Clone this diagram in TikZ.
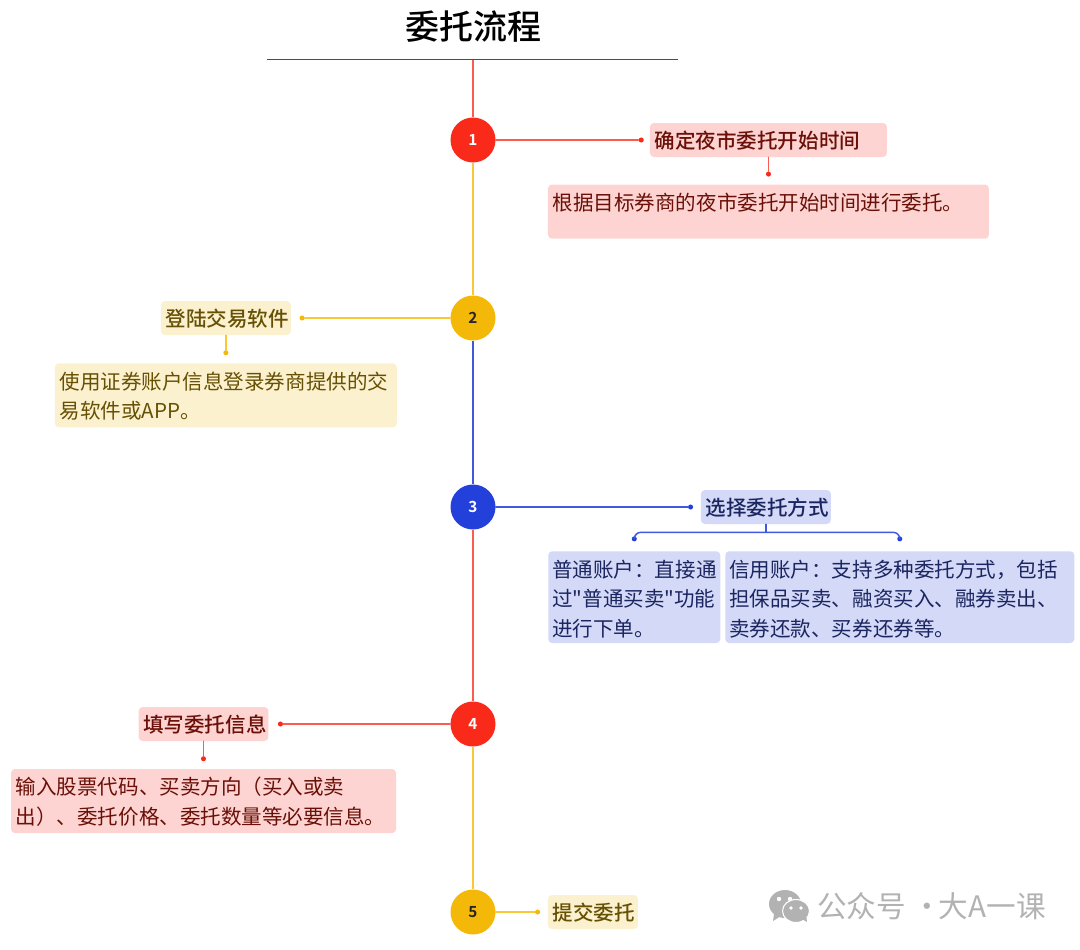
\documentclass[tikz,border=0pt]{standalone}
\usepackage{fontspec}
\setmainfont[BoldFont={Noto Sans CJK SC Medium}]{Noto Sans CJK SC}
\newfontfamily\heavyfont{Noto Sans CJK SC Bold}
\newfontfamily\plainq{Noto Sans CJK SC}
\usepackage{xcolor}
\usetikzlibrary{positioning}
\definecolor{stepred}{HTML}{F92A1A}
\definecolor{stepyellow}{HTML}{F4B809}
\definecolor{stepblue}{HTML}{2440DA}
\definecolor{linered}{HTML}{FB5C50}
\definecolor{lineyellow}{HTML}{F9C935}
\definecolor{lineblue}{HTML}{3F58E0}
\definecolor{lightr}{HTML}{FDD4D1}
\definecolor{lighty}{HTML}{FCF1CE}
\definecolor{lightb}{HTML}{D3D9F7}
\definecolor{darkr}{HTML}{6A1008}
\definecolor{darky}{HTML}{665003}
\definecolor{darkb}{HTML}{1B2560}
\tikzset{
  stepnode/.style={circle, fill=#1, minimum size=33.75pt, inner sep=0pt, font=\fontsize{11.5}{14}\heavyfont\selectfont},
  txtbox/.style={rounded corners=3pt, align=left, inner xsep=3.6pt, inner ysep=4pt, text height=15.35pt, text depth=2.15pt, font=\fontsize{15.4}{22.3}\selectfont},
  head/.style={txtbox, font=\fontsize{15.4}{22.3}\bfseries\selectfont},
  redbox/.style={fill=lightr, text=darkr},
  yellowbox/.style={fill=lighty, text=darky},
  bluebox/.style={fill=lightb, text=darkb},
  dotm/.style={circle, fill=#1, minimum size=3.8pt, inner sep=0pt},
  spine/.style={line width=1.5pt, draw=#1},
  twig/.style={line width=1.1pt, draw=#1, line cap=round},
}
\begin{document}
\begin{tikzpicture}[x=0.75pt, y=-0.75pt]
  \useasboundingbox (0,0) rectangle (1080,949);
  \node[font=\fontsize{25.5}{30}\bfseries\selectfont, inner sep=0pt] (title) at (473,27) {委托流程};
  \coordinate (ruleL) at (267,60);
  \coordinate (ruleR) at (678,60);
  \coordinate (top) at (473,60);
  \draw[line width=0.75pt, draw=black!70] (ruleL) -- (ruleR);
  \node[stepnode=stepred, text=white] (s1) at (473,140) {1};
  \node[stepnode=stepyellow, text=black!85] (s2) at (473,318) {2};
  \node[stepnode=stepblue, text=white] (s3) at (473,507) {3};
  \node[stepnode=stepred, text=white] (s4) at (473,724) {4};
  \node[stepnode=stepyellow, text=black!85] (s5) at (473,912) {5};
  \draw[spine=linered] (top) -- (s1);
  \draw[spine=lineyellow] (s1) -- (s2);
  \draw[spine=lineblue] (s2) -- (s3);
  \draw[spine=linered] (s3) -- (s4);
  \draw[spine=lineyellow] (s4) -- (s5);

  \node[dotm=stepred, right=107pt of s1] (d1) {};
  \node[head, redbox, right=4.25pt of d1, text width=170.55pt] (h1) {确定夜市委托开始时间};
  \node[dotm=stepred, below=10.5pt of h1] (d1b) {};
  \node[txtbox, redbox, below=5.6pt of d1b, text width=323.55pt, text depth=17.2pt] (t1) {根据目标券商的夜市委托开始时间进行委托。};
  \draw[twig=linered] (s1) -- (d1);
  \draw[twig=linered] (h1) -- (d1b);

  \node[dotm=stepyellow, left=109pt of s2] (d2) {};
  \node[head, yellowbox, left=6.2pt of d2, text width=90.2pt] (h2) {登陆交易软件};
  \node[dotm=stepyellow, below=11pt of h2] (d2b) {};
  \node[txtbox, yellowbox, below=5.6pt of d2b, text width=249.3pt, text depth=24.7pt] (t2) {使用证券账户信息登录券商提供的交\\易软件或APP。};
  \draw[twig=lineyellow] (s2) -- (d2);
  \draw[twig=lineyellow] (h2) -- (d2b);

  \node[dotm=stepblue, right=144pt of s3] (d3) {};
  \node[head, bluebox, right=5.5pt of d3, text width=90.2pt] (h3) {选择委托方式};
  \node[txtbox, bluebox, anchor=north west, inner xsep=3pt, text width=123pt, text depth=45.5pt] (t3a) at (548,551) {普通账户：直接通\\过{\plainq"}普通买卖{\plainq"}功能\\进行下单。};
  \node[txtbox, bluebox, anchor=north west, inner xsep=3pt, text width=255.75pt, text depth=45.5pt] (t3b) at (725,551) {信用账户：支持多种委托方式，包括\\担保品买卖、融资买入、融券卖出、\\卖券还款、买券还券等。};
  \node[dotm=stepblue, above=7pt of t3a] (d3a) {};
  \node[dotm=stepblue, above=7pt of t3b] (d3b) {};
  \coordinate[below=6pt of h3] (fork);
  \draw[twig=lineblue] (s3) -- (d3);
  \draw[twig=lineblue] (h3) -- (fork);
  \draw[twig=lineblue, rounded corners=5pt] (d3a.center) |- (fork);
  \draw[twig=lineblue, rounded corners=5pt] (d3b.center) |- (fork);

  \node[dotm=stepred, left=125.25pt of s4] (d4) {};
  \node[head, redbox, left=6.7pt of d4, text width=90.2pt] (h4) {填写委托信息};
  \node[dotm=stepred, below=11pt of h4] (d4b) {};
  \node[txtbox, redbox, below=5.4pt of d4b, text width=281.55pt, text depth=24.7pt] (t4) {输入股票代码、买卖方向（买入或卖\\出）、委托价格、委托数量等必要信息。};
  \draw[twig=linered] (s4) -- (d4);
  \draw[twig=linered] (h4) -- (d4b);

  \node[dotm=stepyellow, right=29.25pt of s5] (d5) {};
  \node[head, yellowbox, right=5.5pt of d5, text width=60.3pt] (h5) {提交委托};
  \draw[twig=lineyellow] (s5) -- (d5);

  \fill[black!30] (785,904) ellipse (16 and 14);
  \fill[black!30] (774,914) -- (773,921) -- (781,916) -- cycle;
  \fill[white] (779,899) circle (2.2);
  \fill[white] (790,899) circle (2.2);
  \fill[black!30, draw=white, line width=0.8pt] (796,911) ellipse (13.5 and 11.5);
  \fill[black!30] (802,919) -- (807,922) -- (806,914) -- cycle;
  \fill[white] (791,908) circle (1.8);
  \fill[white] (801,908) circle (1.8);
  \node[anchor=west, inner sep=0pt, text=black!30, font=\fontsize{22.2}{26}\selectfont] (mark) at (817,906) {公众号 ·\kern-7.5pt{} 大A一课};
\end{tikzpicture}
\end{document}
